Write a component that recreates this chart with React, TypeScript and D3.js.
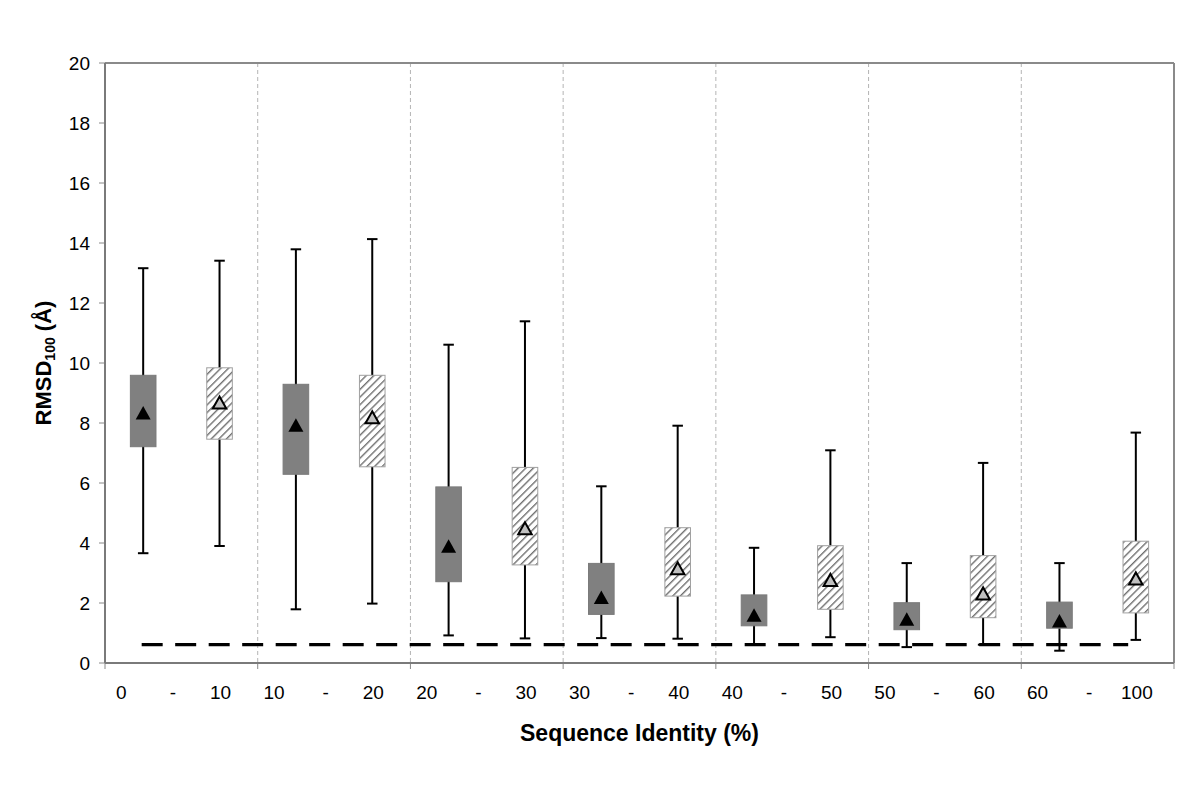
import React from "react";
import * as d3 from "d3";

// ---- data ----
const lowerBounds = ["0", "10", "20", "30", "40", "50", "60"];
const upperBounds = ["10", "20", "30", "40", "50", "60", "100"];
const yTicks = [0, 2, 4, 6, 8, 10, 12, 14, 16, 18, 20];

// dark (solid) series
const darkMax = [13.16, 13.79, 10.61, 5.89, 3.84, 3.33, 3.33];
const darkQ3 = [9.59, 9.29, 5.87, 3.32, 2.27, 2.01, 2.03];
const darkMean = [8.34, 7.93, 3.9, 2.19, 1.6, 1.47, 1.41];
const darkQ1 = [7.21, 6.29, 2.71, 1.62, 1.24, 1.11, 1.16];
const darkMin = [3.66, 1.79, 0.92, 0.83, 0.62, 0.53, 0.41];

// hatched series
const hatchMax = [13.41, 14.13, 11.39, 7.91, 7.09, 6.67, 7.68];
const hatchQ3 = [9.84, 9.59, 6.52, 4.51, 3.91, 3.58, 4.06];
const hatchMean = [8.68, 8.19, 4.49, 3.16, 2.77, 2.32, 2.82];
const hatchQ1 = [7.46, 6.54, 3.27, 2.23, 1.79, 1.51, 1.67];
const hatchMin = [3.9, 1.98, 0.82, 0.81, 0.86, 0.61, 0.77];

const threshold = 0.61;

const FONT = "'Liberation Sans', Arial, Helvetica, sans-serif";

export default function App() {
  const left = 105, right = 1174, top = 63, bottom = 663;
  const n = lowerBounds.length;
  const x = d3.scaleLinear().domain([0, n]).range([left, right]);
  const y = d3.scaleLinear().domain([0, 20]).range([bottom, top]);
  const boxW = 25.6;
  const capW = 10.5;

  const tri = (cx: number, cy: number, w: number, h: number) =>
    `M${cx - w / 2},${cy + h / 2}L${cx + w / 2},${cy + h / 2}L${cx},${cy - h / 2}Z`;

  const drawBox = (
    key: string,
    cx: number,
    mx: number,
    q3: number,
    mean: number,
    q1: number,
    mn: number,
    hatched: boolean
  ) => (
    <g key={key}>
      <line x1={cx} x2={cx} y1={y(mx)} y2={y(mn)} stroke="#000" strokeWidth={2} />
      <line x1={cx - capW / 2} x2={cx + capW / 2} y1={y(mx)} y2={y(mx)} stroke="#000" strokeWidth={2} />
      <line x1={cx - capW / 2} x2={cx + capW / 2} y1={y(mn)} y2={y(mn)} stroke="#000" strokeWidth={2} />
      {hatched ? (
        <>
          <rect x={cx - boxW / 2} y={y(q3)} width={boxW} height={y(q1) - y(q3)} fill="#fff" />
          <rect
            x={cx - boxW / 2}
            y={y(q3)}
            width={boxW}
            height={y(q1) - y(q3)}
            fill="url(#hatch)"
            stroke="#a0a0a0"
            strokeWidth={1}
          />
        </>
      ) : (
        <rect
          x={cx - boxW / 2}
          y={y(q3)}
          width={boxW}
          height={y(q1) - y(q3)}
          fill="#808080"
          stroke="#7a7a7a"
          strokeWidth={1}
        />
      )}
      {hatched ? (
        <path d={tri(cx, y(mean), 13.5, 12)} fill="#c0c0c0" stroke="#000" strokeWidth={2} />
      ) : (
        <path d={tri(cx, y(mean), 15, 13.5)} fill="#000" />
      )}
    </g>
  );

  return (
    <svg
      width={1200}
      height={796}
      style={{ position: "absolute", left: 0, top: 0, background: "#fff" }}
      fontFamily={FONT}
    >
      <defs>
        <pattern id="hatch" patternUnits="userSpaceOnUse" width={5.4} height={5.4} patternTransform="rotate(45)">
          <rect width={5.4} height={5.4} fill="#fff" />
          <line x1={0} y1={0} x2={0} y2={5.4} stroke="#707070" strokeWidth={2.8} />
        </pattern>
      </defs>
      <rect x={0} y={0} width={1200} height={796} fill="#fff" />

      {/* vertical dashed separators */}
      {d3.range(1, n).map((i) => (
        <line
          key={"sep" + i}
          x1={x(i)}
          x2={x(i)}
          y1={top}
          y2={bottom}
          stroke="#b4b4b4"
          strokeWidth={1}
          strokeDasharray="4,3"
        />
      ))}

      {/* x tick marks */}
      {d3.range(0, n + 1).map((i) => (
        <line key={"xt" + i} x1={x(i)} x2={x(i)} y1={bottom} y2={bottom + 6} stroke="#888" strokeWidth={1} />
      ))}

      {/* y ticks */}
      {yTicks.map((t) => (
        <g key={"yt" + t}>
          <line x1={left - 6} x2={left} y1={y(t)} y2={y(t)} stroke="#888" strokeWidth={1} />
          <text x={90} y={y(t)} dy="0.36em" textAnchor="end" fontSize={19} fill="#000">
            {t}
          </text>
        </g>
      ))}

      {/* plot frame */}
      <line x1={left} x2={right} y1={top} y2={top} stroke="#8a8a8a" strokeWidth={2} />
      <line x1={right} x2={right} y1={top} y2={bottom} stroke="#8a8a8a" strokeWidth={2} />
      <line x1={left} x2={left} y1={top} y2={bottom} stroke="#7a7a7a" strokeWidth={2} />
      <line x1={left} x2={right} y1={bottom} y2={bottom} stroke="#7a7a7a" strokeWidth={2} />

      {/* threshold dashed line */}
      <line
        x1={x(0.25) - 1.5}
        x2={x(6.7)}
        y1={y(threshold)}
        y2={y(threshold)}
        stroke="#000"
        strokeWidth={3.2}
        strokeDasharray="21,12.5"
      />

      {/* boxes */}
      {lowerBounds.map((_, i) =>
        drawBox("d" + i, x(i + 0.25), darkMax[i], darkQ3[i], darkMean[i], darkQ1[i], darkMin[i], false)
      )}
      {lowerBounds.map((_, i) =>
        drawBox("h" + i, x(i + 0.75), hatchMax[i], hatchQ3[i], hatchMean[i], hatchQ1[i], hatchMin[i], true)
      )}

      {/* x category labels */}
      {lowerBounds.map((lb, i) => (
        <g key={"xl" + i} fontSize={19} fill="#000" textAnchor="middle">
          <text x={x(i + 0.107)} y={699}>
            {lb}
          </text>
          <text x={x(i + 0.445)} y={699}>
            -
          </text>
          <text x={x(i + 0.757)} y={699}>
            {upperBounds[i]}
          </text>
        </g>
      ))}

      {/* axis titles */}
      <text x={(left + right) / 2} y={741} textAnchor="middle" fontSize={23} fontWeight="bold">
        Sequence Identity (%)
      </text>
      <text
        transform={`translate(51, ${(top + bottom) / 2}) rotate(-90)`}
        textAnchor="middle"
        fontSize={22}
        fontWeight="bold"
      >
        RMSD
        <tspan fontSize={14} dy={4}>
          100
        </tspan>
        <tspan dy={-4}> (Å)</tspan>
      </text>
    </svg>
  );
}
